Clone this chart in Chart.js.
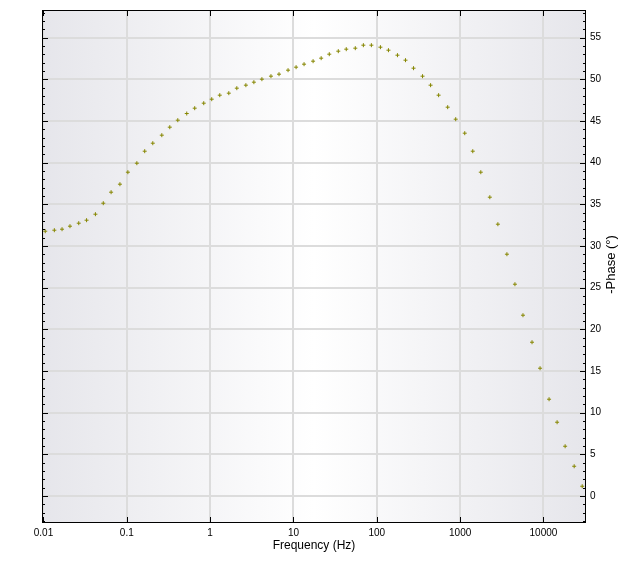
<!DOCTYPE html>
<html><head><meta charset="utf-8">
<script src="https://cdn.jsdelivr.net/npm/chart.js@4.4.1/dist/chart.umd.min.js"></script>
<style>html,body{margin:0;padding:0;background:#fff;}</style>
</head><body>
<canvas id="c" width="628" height="562"></canvas>
<script>
const frequencies = [0.0105, 0.0135, 0.0167, 0.0208, 0.0265, 0.0329, 0.042, 0.0522, 0.0648, 0.0827,
  0.103, 0.132, 0.164, 0.205, 0.263, 0.328, 0.409, 0.524, 0.653, 0.838,
  1.045, 1.305, 1.675, 2.09, 2.685, 3.35, 4.18, 5.37, 6.71, 8.61,
  10.75, 13.4, 17.2, 21.5, 26.9, 34.5, 43.0, 55.2, 69.0, 86.1,
  110.5, 138, 177, 221, 276, 354, 442, 552, 709, 885,
  1136, 1418, 1771, 2273, 2838, 3643, 4548, 5678, 7290, 9101,
  11680, 14580, 18200, 23370, 29180];
const phases = [31.76, 31.88, 32.0, 32.36, 32.72, 33.08, 33.8, 35.12, 36.44, 37.4,
  38.84, 39.92, 41.36, 42.32, 43.28, 44.24, 45.08, 45.88, 46.52, 47.12,
  47.6, 48.08, 48.32, 48.92, 49.28, 49.64, 50.0, 50.36, 50.6, 51.08,
  51.44, 51.8, 52.16, 52.52, 53.0, 53.36, 53.6, 53.72, 54.08, 54.08,
  53.84, 53.48, 52.88, 52.28, 51.32, 50.36, 49.28, 48.08, 46.64, 45.2,
  43.52, 41.36, 38.84, 35.84, 32.6, 29.0, 25.4, 21.68, 18.44, 15.32,
  11.6, 8.84, 5.96, 3.56, 1.16];
const xTickValues = [0.01, 0.1, 1, 10, 100, 1000, 10000];
const xTickLabels = ['0.01', '0.1', '1', '10', '100', '1000', '10000'];
const yTickValues = [0, 5, 10, 15, 20, 25, 30, 35, 40, 45, 50, 55];
const yTickLabels = ['0', '5', '10', '15', '20', '25', '30', '35', '40', '45', '50', '55'];
const xTitle = 'Frequency (Hz)';
const yTitle = '-Phase (°)';

const FONT = '"Liberation Sans", Arial, sans-serif';

const framePlugin = {
  id: 'frame',
  beforeDraw(chart) {
    const {ctx, chartArea: a} = chart;
    const g = ctx.createLinearGradient(a.left, 0, a.right, 0);
    g.addColorStop(0, '#e6e6eb');
    g.addColorStop(0.5, '#ffffff');
    g.addColorStop(1, '#e6e6eb');
    ctx.save();
    ctx.fillStyle = g;
    ctx.fillRect(a.left, a.top, a.right - a.left, a.bottom - a.top);
    ctx.restore();
  },
  afterDraw(chart) {
    const {ctx, chartArea: a, scales} = chart;
    const xs = scales.x, ys = scales.y;
    ctx.save();
    ctx.strokeStyle = '#000';
    ctx.lineWidth = 1;
    ctx.beginPath();
    xTickValues.forEach(v => {
      const px = Math.round(xs.getPixelForValue(v)) + 0.5;
      ctx.moveTo(px, a.bottom); ctx.lineTo(px, a.bottom - 6);
      ctx.moveTo(px, a.top); ctx.lineTo(px, a.top + 6);
    });
    for (let v = Math.ceil(ys.min); v <= ys.max; v++) {
      const py = Math.round(ys.getPixelForValue(v)) + 0.5;
      const len = (v % 5 === 0) ? 6 : 3;
      ctx.moveTo(a.left, py); ctx.lineTo(a.left + len, py);
      ctx.moveTo(a.right, py); ctx.lineTo(a.right - len, py);
    }
    ctx.stroke();
    ctx.strokeRect(a.left + 0.5, a.top + 0.5, a.right - a.left - 1, a.bottom - a.top - 1);
    ctx.translate(611, (a.top + a.bottom) / 2 - 2);
    ctx.rotate(-Math.PI / 2);
    ctx.fillStyle = '#000';
    ctx.font = '13px ' + FONT;
    ctx.textAlign = 'center';
    ctx.textBaseline = 'middle';
    ctx.fillText(yTitle, 0, 0);
    ctx.restore();
  }
};

const points = frequencies.map((f, i) => ({x: f, y: phases[i]}));

new Chart(document.getElementById('c'), {
  type: 'scatter',
  data: {
    datasets: [{
      data: points,
      pointStyle: 'cross',
      pointRadius: 2,
      pointBorderWidth: 1,
      borderColor: '#868600',
      backgroundColor: '#868600',
      showLine: false
    }]
  },
  options: {
    responsive: false,
    animation: false,
    devicePixelRatio: 1,
    layout: {padding: {left: 42, top: 10, right: 0, bottom: 0}},
    plugins: {legend: {display: false}, tooltip: {enabled: false}},
    scales: {
      x: {
        type: 'logarithmic',
        position: 'bottom',
        min: 0.0096,
        max: 32400,
        afterBuildTicks(s) { s.ticks = xTickValues.map(v => ({value: v, major: true})); },
        afterFit(s) { s.height = 39; },
        grid: {color: '#dcdcdc', lineWidth: 2, drawTicks: false},
        border: {display: false},
        ticks: {
          autoSkip: false, maxRotation: 0, minRotation: 0, padding: 4, color: '#000',
          font: {family: FONT, size: 10},
          callback: (v, i) => xTickLabels[i]
        },
        title: {display: true, text: xTitle, color: '#000', font: {family: FONT, size: 12}, padding: {top: 0, bottom: 9}}
      },
      y: {
        type: 'linear',
        position: 'right',
        min: -3.25,
        max: 58.3,
        afterBuildTicks(s) { s.ticks = yTickValues.map(v => ({value: v})); },
        afterFit(s) { s.width = 42; },
        grid: {color: '#dcdcdc', lineWidth: 2, drawTicks: false},
        border: {display: false},
        ticks: {
          autoSkip: false, padding: 4, color: '#000',
          font: {family: FONT, size: 10},
          callback: (v, i) => yTickLabels[i]
        }
      }
    }
  },
  plugins: [framePlugin]
});
</script>
</body></html>
